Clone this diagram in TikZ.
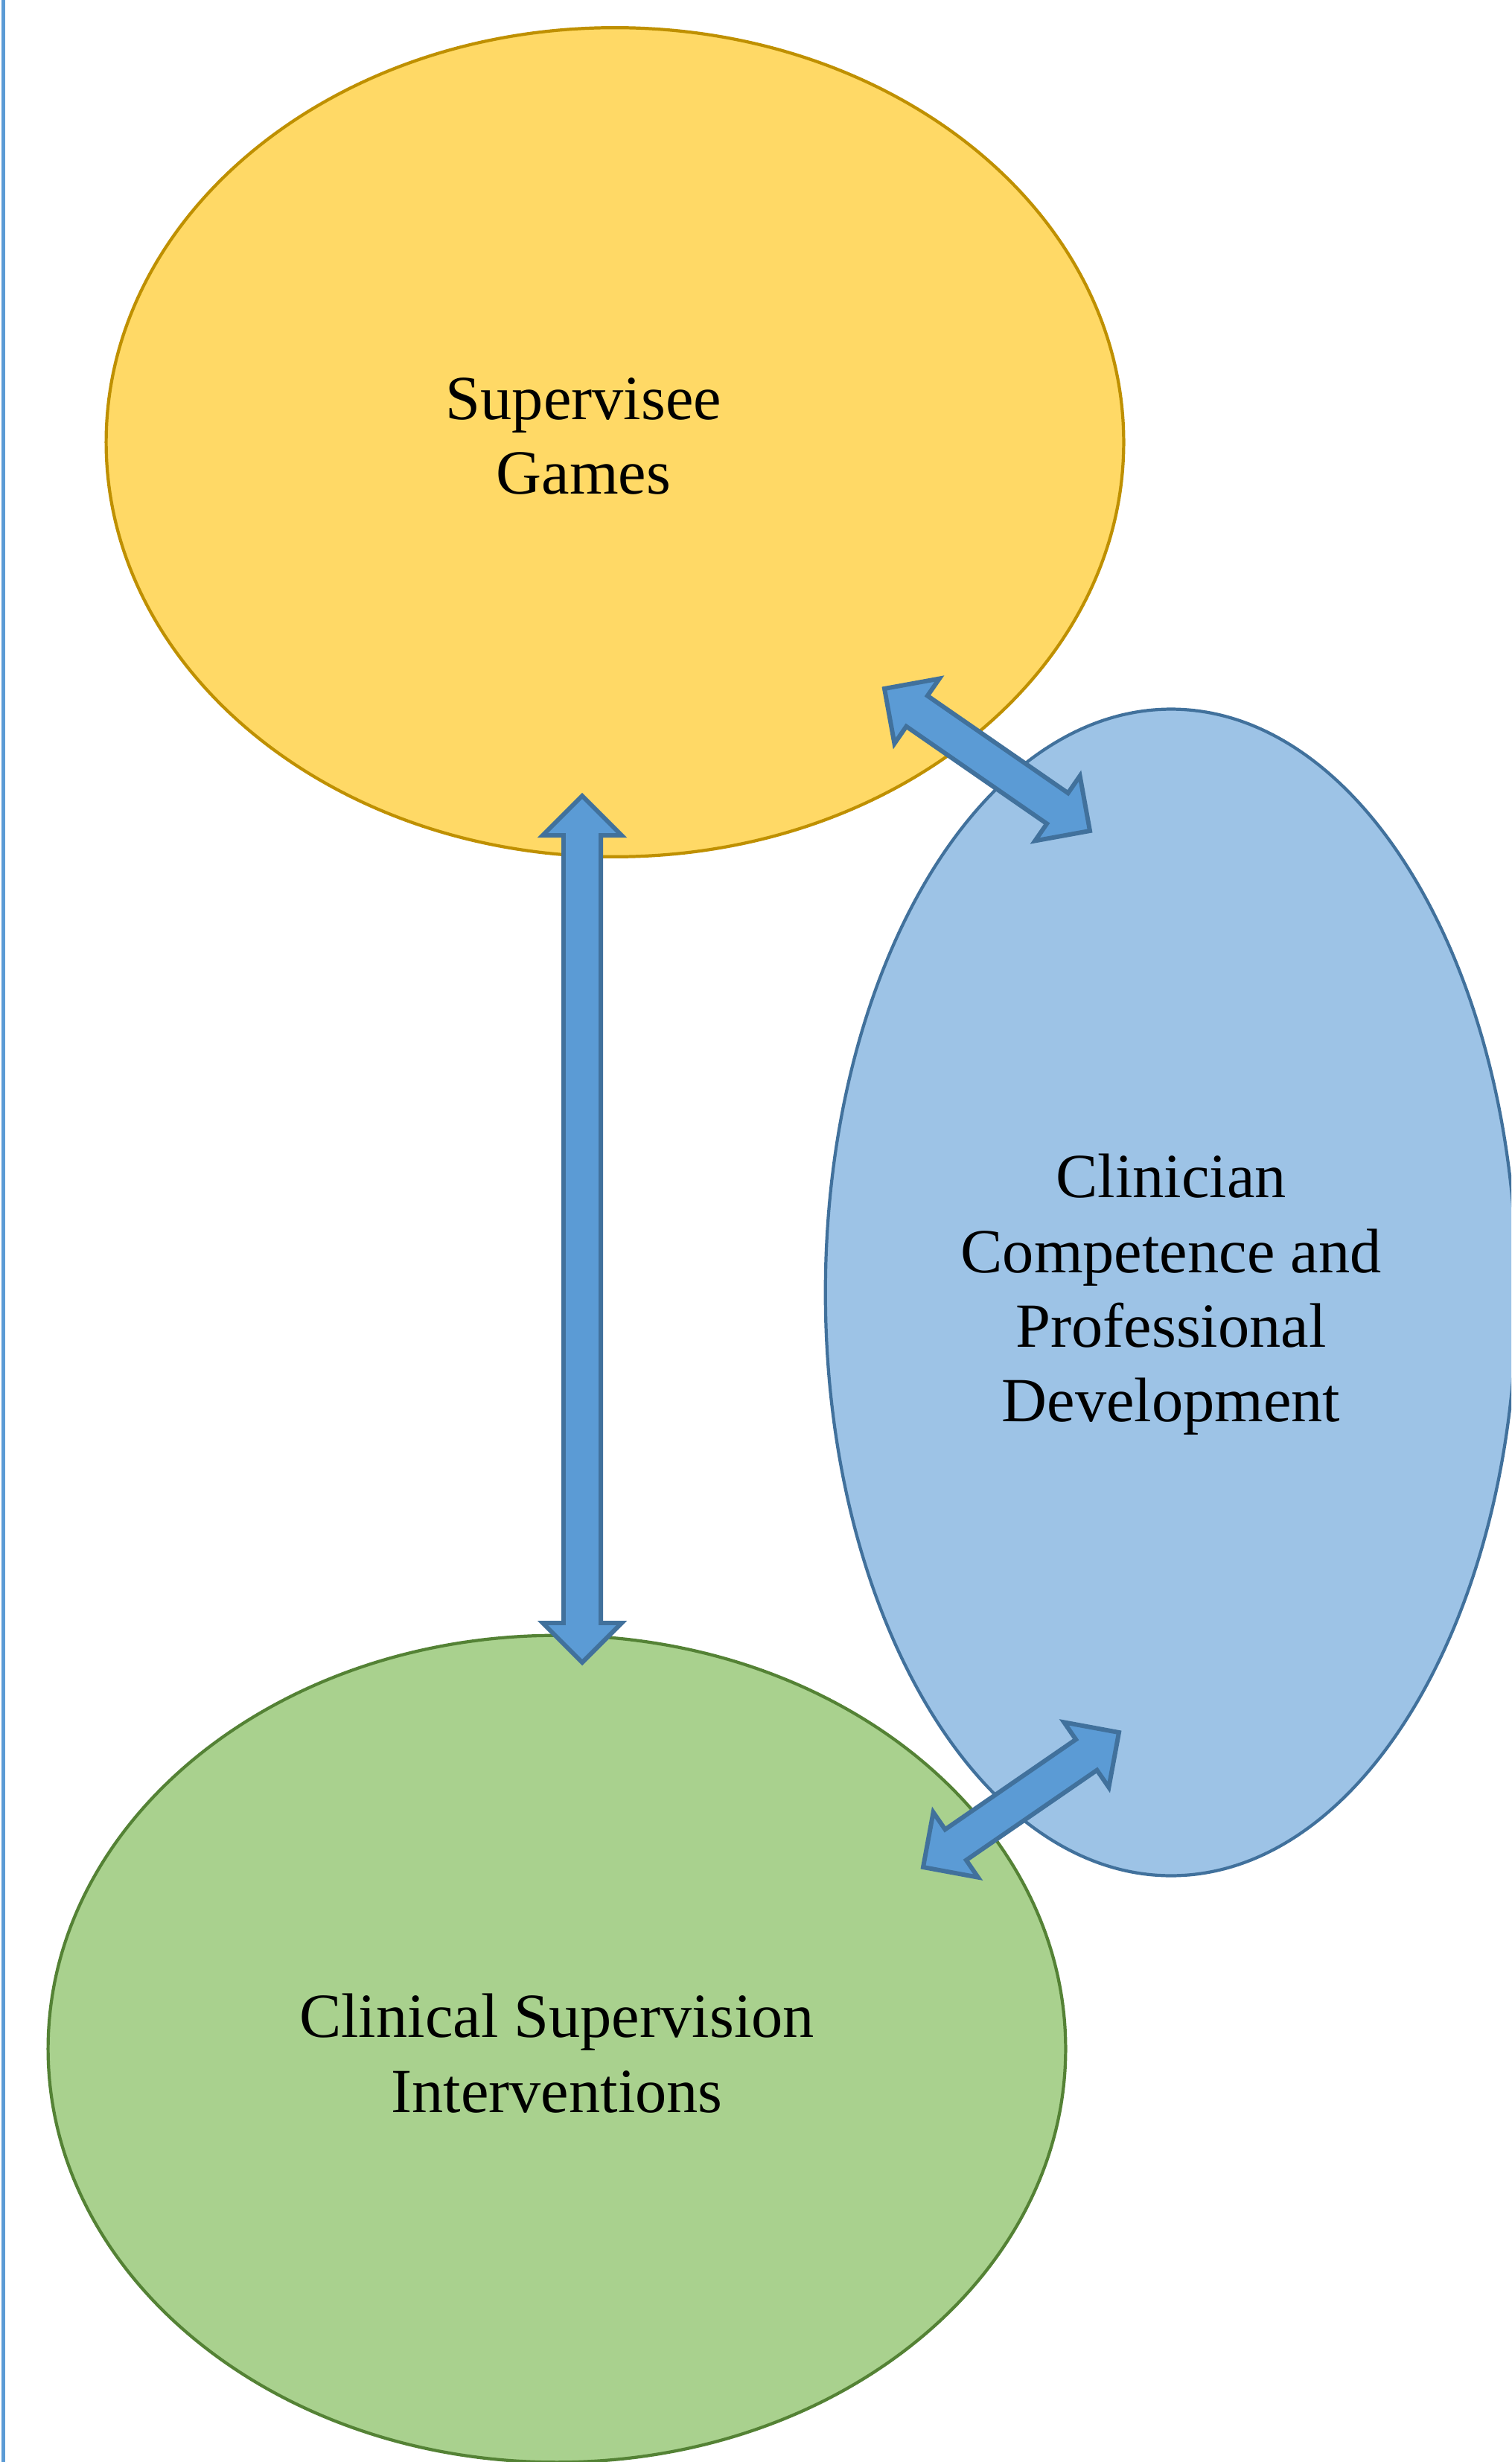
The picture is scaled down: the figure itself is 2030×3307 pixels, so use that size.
\documentclass[tikz,border=0pt]{standalone}
\usepackage{fontspec}
\setmainfont{Liberation Serif}
\usetikzlibrary{shapes.geometric,calc}

\definecolor{gamesfill}{HTML}{FFD966}
\definecolor{gamesline}{HTML}{BF9000}
\definecolor{compfill}{HTML}{9DC3E6}
\definecolor{compline}{HTML}{41719C}
\definecolor{intervfill}{HTML}{A9D18E}
\definecolor{intervline}{HTML}{548235}
\definecolor{arrowfill}{HTML}{5B9BD5}

\tikzset{
  bubble/.style={ellipse,draw,line width=1.2pt,inner sep=0pt},
  bubbletext/.style={align=center,font=\fontsize{24}{28.5}\selectfont},
  blockarrow/.style={fill=arrowfill,draw=compline,line width=1.7pt}
}

% double block arrow between two named points
\newcommand{\biarrow}[2]{%
  \coordinate (#1h) at ($(#1)!0.53cm!(#2)$);
  \coordinate (#2h) at ($(#2)!0.53cm!(#1)$);
  \draw[blockarrow] (#1) -- ($(#1h)!0.53cm!-90:(#2)$) -- ($(#1h)!0.25cm!-90:(#2)$)
    -- ($(#2h)!0.25cm!90:(#1)$) -- ($(#2h)!0.53cm!90:(#1)$) -- (#2)
    -- ($(#2h)!0.53cm!-90:(#1)$) -- ($(#2h)!0.25cm!-90:(#1)$)
    -- ($(#1h)!0.25cm!90:(#2)$) -- ($(#1h)!0.53cm!90:(#2)$) -- cycle;
}

\begin{document}
\begin{tikzpicture}[x=0.01cm,y=-0.01cm]
  \useasboundingbox (0,0) rectangle (2030,3307);
  \clip (0,0) rectangle (2030,3307);

  \draw[arrowfill,line width=1.4pt] (4.5,0) -- (4.5,3307);

  \node[bubble,fill=gamesfill,draw=gamesline,minimum width=13.66cm,minimum height=11.13cm] (games) at (826,594) {};
  \node[bubble,fill=compfill,draw=compline,minimum width=9.28cm,minimum height=15.66cm] (comp) at (1573,1736) {};
  \node[bubble,fill=intervfill,draw=intervline,minimum width=13.66cm,minimum height=11.1cm] (interv) at (748,2752) {};

  \node[bubbletext] (gamestext) at (784,586) {Supervisee\\Games};
  \node[bubbletext] (comptext) at (1573,1739) {Clinician\\Competence and\\Professional\\Development};
  \node[bubbletext] (intervtext) at (748,2758) {Clinical Supervision\\Interventions};

  \coordinate (gv) at (782,1069);
  \coordinate (iv) at (782,2233);
  \coordinate (gc) at (1188,925);
  \coordinate (cg) at (1464,1116);
  \coordinate (ci) at (1503,2327);
  \coordinate (ic) at (1240,2508);

  \biarrow{gv}{iv}
  \biarrow{gc}{cg}
  \biarrow{ci}{ic}

\end{tikzpicture}
\end{document}
